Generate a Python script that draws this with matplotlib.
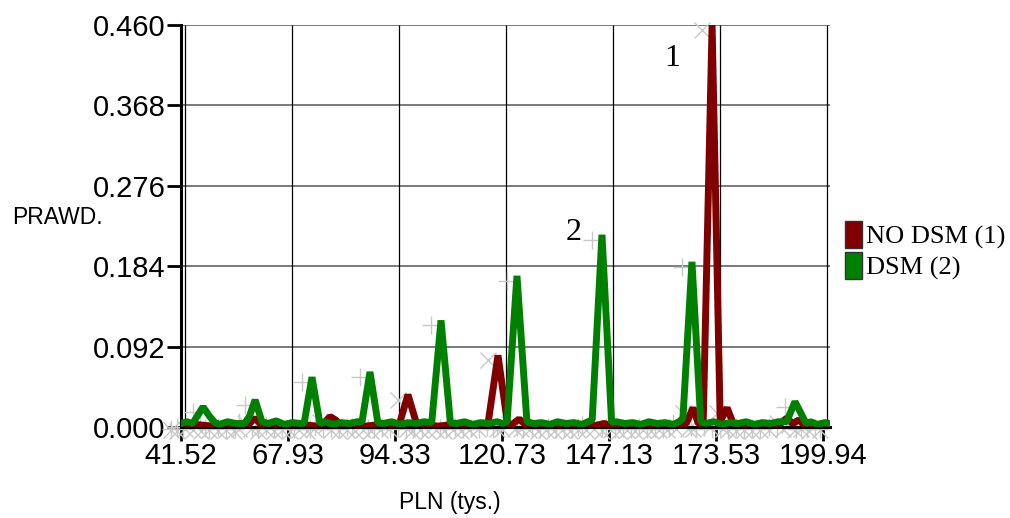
import matplotlib.pyplot as plt
import matplotlib.transforms as mtransforms
from matplotlib.patches import Patch

# PLN (tys.) positions and probabilities
dsm_x = [41.5, 43.0, 44.4, 46.95, 48.6, 49.9, 51.0, 53.0, 55.0, 57.2, 58.4, 59.8, 61.5,
         63.0, 65.0, 67.0, 69.0, 71.0, 71.9, 73.85, 75.8, 77.0, 79.0, 81.0, 83.0, 85.0,
         86.2, 88.16, 90.1, 91.5, 93.5, 95.5, 97.5, 99.5, 101.5, 103.4, 105.69, 108.0,
         109.5, 111.5, 113.5, 115.5, 117.5, 119.5, 121.0, 122.0, 124.44, 126.9, 128.5,
         130.5, 132.5, 134.5, 136.5, 138.5, 140.5, 142.0, 143.0, 145.42, 147.8, 149.0,
         151.0, 153.0, 155.0, 157.0, 159.0, 161.0, 163.0, 164.5, 165.4, 167.63, 169.8,
         171.0, 173.0, 175.0, 177.0, 179.0, 181.0, 183.0, 185.0, 187.0, 189.0, 191.0,
         193.05, 194.6, 195.8, 197.0, 198.5, 200.5, 201.7]
dsm_y = [0.004, 0.006, 0.004, 0.023, 0.012, 0.005, 0.003, 0.006, 0.004, 0.004, 0.012, 0.031, 0.006,
         0.004, 0.007, 0.003, 0.005, 0.004, 0.004, 0.057, 0.004, 0.006, 0.003, 0.005, 0.004, 0.006,
         0.006, 0.063, 0.005, 0.004, 0.006, 0.003, 0.005, 0.004, 0.006, 0.005, 0.122, 0.005,
         0.004, 0.006, 0.003, 0.005, 0.004, 0.006, 0.004, 0.006, 0.173, 0.006, 0.004,
         0.005, 0.003, 0.006, 0.004, 0.005, 0.003, 0.006, 0.008, 0.220, 0.005, 0.006,
         0.004, 0.005, 0.003, 0.006, 0.004, 0.005, 0.003, 0.006, 0.010, 0.189, 0.006,
         0.004, 0.006, 0.003, 0.005, 0.004, 0.006, 0.003, 0.005, 0.004, 0.006, 0.006,
         0.029, 0.015, 0.004, 0.006, 0.003, 0.005, 0.004]

no_dsm_x = [41.5, 43.0, 45.0, 47.0, 49.0, 51.0, 53.0, 55.0, 57.0, 58.4, 59.8, 61.2, 63.0,
            65.0, 67.0, 69.0, 71.0, 73.0, 75.0, 76.8, 78.3, 79.7, 81.0, 83.0, 85.0, 87.0,
            89.0, 91.0, 93.0, 95.4, 97.54, 99.7, 101.0, 103.0, 105.0, 107.0, 109.0, 111.0,
            113.0, 115.0, 117.3, 119.75, 122.1, 123.2, 125.0, 126.5, 128.0, 130.0, 132.0,
            134.0, 136.0, 138.0, 140.0, 142.0, 144.0, 146.0, 148.0, 150.0, 152.0, 154.0,
            156.0, 158.0, 160.0, 162.0, 164.0, 166.2, 167.9, 169.2, 170.4, 172.6, 174.6,
            176.3, 177.8, 179.0, 181.0, 183.0, 185.0, 187.0, 189.0, 191.0, 192.5, 194.0,
            195.5, 197.0, 199.0, 201.7]
no_dsm_y = [0.002, 0.001, 0.003, 0.002, 0.001, 0.002, 0.001, 0.002, 0.001, 0.004, 0.010, 0.003, 0.001,
            0.002, 0.001, 0.002, 0.001, 0.002, 0.001, 0.004, 0.012, 0.008, 0.002, 0.001, 0.002, 0.001,
            0.002, 0.001, 0.002, 0.003, 0.037, 0.003, 0.001, 0.002, 0.001, 0.002, 0.001, 0.002,
            0.001, 0.002, 0.004, 0.082, 0.004, 0.003, 0.009, 0.003, 0.004, 0.002, 0.001,
            0.002, 0.001, 0.002, 0.001, 0.002, 0.002, 0.004, 0.001, 0.002, 0.001, 0.002,
            0.001, 0.002, 0.001, 0.002, 0.002, 0.004, 0.022, 0.004, 0.004, 0.460, 0.006,
            0.022, 0.004, 0.002, 0.001, 0.002, 0.001, 0.002, 0.002, 0.010, 0.004, 0.008,
            0.002, 0.004, 0.001, 0.002]

x_ticks = [41.52, 67.93, 94.33, 120.73, 147.13, 173.53, 199.94]
x_tick_labels = ["41.52", "67.93", "94.33", "120.73", "147.13", "173.53", "199.94"]
y_ticks = [0.000, 0.092, 0.184, 0.276, 0.368, 0.460]

RED = "#800000"
GREEN = "#008000"
SANS = "Liberation Sans"
SERIF = "Liberation Serif"

fig = plt.figure(figsize=(10.1, 5.18), dpi=100)
ax = fig.add_axes([181 / 1010, 91 / 518, 649 / 1010, 402 / 518])
ax.set_xlim(41.52, 201.7)
ax.set_ylim(0, 0.46)

# grid: gray horizontal, thin black vertical (shifted a few px right of the ticks)
for yv in y_ticks:
    ax.axhline(yv, color="#707070", lw=1.3, zorder=1)
shift = mtransforms.offset_copy(ax.transData, fig=fig, x=4, y=0, units="dots")
ax.vlines(x_ticks, 0, 0.46, colors="black", lw=0.9, zorder=1,
          transform=shift)

# faint shadow markers
mk = mtransforms.offset_copy(ax.transData, fig=fig, x=-10, y=-5, units="dots")
ax.plot(no_dsm_x, no_dsm_y, ls="none", marker="x", ms=11, mew=1, color="#c8c8c8",
        transform=mk, clip_on=False, zorder=2)
ax.plot(dsm_x, dsm_y, ls="none", marker="+", ms=13, mew=1, color="#c8c8c8",
        transform=mk, clip_on=False, zorder=2)

ax.plot(no_dsm_x, no_dsm_y, color=RED, lw=5.0, solid_joinstyle="bevel", zorder=3)
ax.plot(dsm_x, dsm_y, color=GREEN, lw=5.0, solid_joinstyle="bevel", zorder=4)

ax.set_xticks(x_ticks)
ax.set_xticklabels(x_tick_labels)
ax.set_yticks(y_ticks)
ax.set_yticklabels([f"{v:.3f}" for v in y_ticks])
ax.tick_params(axis="both", direction="out", length=10, width=2, color="black",
               labelsize=21, pad=1)
for lab in ax.get_xticklabels() + ax.get_yticklabels():
    lab.set_family(SANS)

ax.spines["top"].set_visible(False)
ax.spines["right"].set_visible(False)
ax.spines["left"].set_linewidth(2.2)
ax.spines["bottom"].set_linewidth(2.2)

ax.text(162.7, 0.422, "1", family=SERIF, fontsize=23, ha="center", va="center")
ax.text(138.5, 0.222, "2", family=SERIF, fontsize=23, ha="center", va="center")

fig.text(12 / 1010, 1 - 218 / 518, "PRAWD.", family=SANS, fontsize=16.5,
         ha="left", va="center")
fig.text(450 / 1010, 1 - 503 / 518, "PLN (tys.)", family=SANS, fontsize=16.5,
         ha="center", va="center")

handles = [Patch(facecolor=RED, edgecolor="#333333", label="NO DSM (1)"),
           Patch(facecolor=GREEN, edgecolor="#333333", label="DSM (2)")]
fig.legend(handles=handles, loc="upper left", bbox_to_anchor=(845 / 1010, 1 - 221 / 518),
           frameon=False, borderpad=0, borderaxespad=0, handlelength=0.65,
           handleheight=1.2, labelspacing=0.12, handletextpad=0.15,
           prop={"family": SERIF, "size": 19})

fig.savefig("out.png", dpi=100)
